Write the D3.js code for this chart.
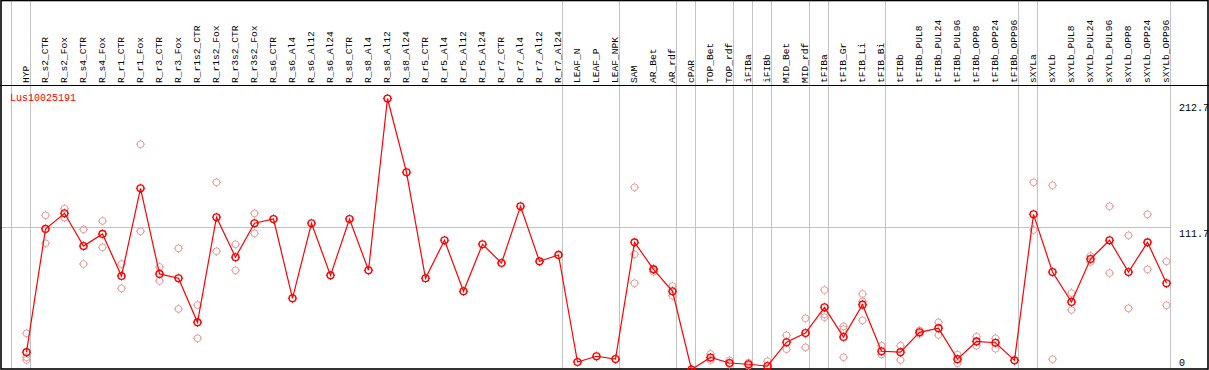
<!DOCTYPE html>
<head>
    <meta charset="utf-8">
    <!-- Load d3.js -->
    <script src="https://d3js.org/d3.v7.min.js"></script>
    <style>
        body {
            margin: 0;
            background: #fff;
        }
        text {
            font-family: 'Liberation Mono', 'DejaVu Sans Mono', monospace;
        }
    </style>
</head>

<body>
    <div id="my_dataviz"></div>
</body>
<script>

    // column names (one per sample)
    var samples = ["HYP", "R_s2_CTR", "R_s2_Fox", "R_s4_CTR", "R_s4_Fox", "R_r1_CTR", "R_r1_Fox", "R_r3_CTR", "R_r3_Fox",
        "R_r1s2_CTR", "R_r1s2_Fox", "R_r3s2_CTR", "R_r3s2_Fox", "R_s6_CTR", "R_s6_Al4", "R_s6_Al12", "R_s6_Al24",
        "R_s8_CTR", "R_s8_Al4", "R_s8_Al12", "R_s8_Al24", "R_r5_CTR", "R_r5_Al4", "R_r5_Al12", "R_r5_Al24",
        "R_r7_CTR", "R_r7_Al4", "R_r7_Al12", "R_r7_Al24", "LEAF_N", "LEAF_P", "LEAF_NPK", "SAM", "AR_Bet", "AR_rdf",
        "cPAR", "TOP_Bet", "TOP_rdf", "iFIBa", "iFIBb", "MID_Bet", "MID_rdf", "tFIBa", "tFIB_Gr", "tFIB_Li", "tFIB_Bi",
        "tFIBb", "tFIBb_PUL8", "tFIBb_PUL24", "tFIBb_PUL96", "tFIBb_OPP8", "tFIBb_OPP24", "tFIBb_OPP96",
        "sXYLa", "sXYLb", "sXYLb_PUL8", "sXYLb_PUL24", "sXYLb_PUL96", "sXYLb_OPP8", "sXYLb_OPP24", "sXYLb_OPP96"];

    // mean expression per sample
    var means = [13.6, 110.3, 122.6, 96.9, 106.4, 73.4, 142.2, 75.0, 71.6,
        37.0, 119.5, 88.1, 114.8, 118.1, 55.9, 114.8, 73.9,
        118.1, 77.9, 212.7, 154.8, 71.6, 101.4, 61.4, 98.3,
        83.6, 128.1, 84.9, 89.9, 5.9, 10.4, 8.2, 99.8, 78.6, 61.4,
        0, 9.4, 5.1, 4.1, 2.7, 21.4, 28.6, 48.8, 25.5, 50.9, 14.3,
        13.6, 29.2, 32.4, 8.1, 22.0, 21.0, 7.2,
        121.8, 76.5, 53.0, 86.7, 101.4, 76.5, 99.8, 67.7];

    // replicate values per sample
    var replicates = [[28.4, 9.6, 7.5], [121.0, 99.1], [126.2, 119.2], [110.0, 82.8], [116.6, 95.9], [82.8, 63.7],
        [176.8, 108.5], [80.5, 69.5], [95.1, 47.5], [50.6, 24.5], [146.9, 92.8], [98.3, 77.9], [122.6, 106.9],
        [], [], [], [], [], [], [], [], [], [], [], [], [], [], [], [], [], [], [],
        [143.0, 90.4, 67.7], [79.1, 76.8], [65.5, 57.9], [], [12.2, 7.5], [7.2, 4.1], [5.3, 3.1], [6.5],
        [26.9, 15.9], [40.2, 17.4], [62.4, 43.3, 41.0], [33.9, 31.6, 9.6], [59.3, 53.5, 38.6], [18.7, 11.8],
        [18.7, 7.5], [30.6, 27.9], [37.0, 27.1], [11.6, 4.9], [25.7, 18.7], [24.5, 16.3], [],
        [146.9, 109.5], [144.6, 8.1], [60.0, 46.7], [89.1, 84.4], [128.1, 75.7], [105.3, 48.0], [121.8, 78.6], [84.9, 50.4]];

    // last sample of each group (a grey separator follows it)
    var groupEnds = ["HYP", "R_r7_Al24", "LEAF_NPK", "AR_rdf", "cPAR", "TOP_rdf", "iFIBa", "iFIBb",
        "MID_rdf", "tFIBa", "tFIB_Bi", "tFIBb_OPP96", "sXYLa", "sXYLb_OPP96"];

    var geneName = "Lus10025191";
    var yTicks = [212.7, 111.7, 0];

    var width = 1209,
        height = 370;

    var svg = d3.select("#my_dataviz")
        .append("svg")
        .attr("width", width)
        .attr("height", height);

    // scales
    var x = d3.scalePoint()
        .domain(samples)
        .range([26.5, 1166.5]);
    var step = x.step();

    var y = d3.scaleLinear()
        .domain([0, d3.max(yTicks)])
        .range([369.5, 98.5]);

    var grey = "#c3c3c3";

    // horizontal grid at middle value
    svg.append("line")
        .attr("x1", 0).attr("x2", x(samples[samples.length - 1]) + 4)
        .attr("y1", Math.round(y(yTicks[1])) + 0.5).attr("y2", Math.round(y(yTicks[1])) + 0.5)
        .style("stroke", grey);

    // vertical separators between groups
    var sepX = [x(samples[0]) - step + 4].concat(groupEnds.map(function (d) { return x(d) + 4; }));
    svg.selectAll(".sep")
        .data(sepX)
        .enter()
        .append("line")
        .attr("x1", function (d) { return d; })
        .attr("x2", function (d) { return d; })
        .attr("y1", 0)
        .attr("y2", 369)
        .style("stroke", grey);

    // frame + header line
    svg.append("rect")
        .attr("x", 1).attr("y", 0.5)
        .attr("width", width - 2).attr("height", 368.5)
        .style("fill", "none")
        .style("stroke", "black")
        .style("stroke-width", 1.6);
    svg.append("line")
        .attr("x1", 0).attr("x2", width)
        .attr("y1", 85.5).attr("y2", 85.5)
        .style("stroke", "black");

    // rotated column labels
    svg.selectAll(".lab")
        .data(samples)
        .enter()
        .append("text")
        .attr("transform", function (d) { return "translate(" + (x(d) + 2.5) + ",83) rotate(-90)"; })
        .style("font-size", "9.6px")
        .style("fill", "black")
        .text(function (d) { return d; });

    // value labels on the right
    var tickOffset = [12, 9.5, -4];
    svg.selectAll(".ytick")
        .data(yTicks)
        .enter()
        .append("text")
        .attr("x", 1179)
        .attr("y", function (d, i) { return y(d) + tickOffset[i]; })
        .style("font-size", "10px")
        .style("fill", "black")
        .text(function (d) { return d; });

    // gene name
    svg.append("text")
        .attr("x", 10)
        .attr("y", 100.5)
        .style("font-size", "10px")
        .style("fill", "red")
        .text(geneName);

    // marker: circle with small ticks
    function marker(g, cx, cy, color, sw) {
        var r = 3.4;
        g.append("circle")
            .attr("cx", cx).attr("cy", cy).attr("r", r)
            .style("fill", "none")
            .style("stroke", color)
            .style("stroke-width", sw);
        [[0, -1], [0, 1], [-1, 0], [1, 0]].forEach(function (v) {
            g.append("line")
                .attr("x1", cx + v[0] * r).attr("y1", cy + v[1] * r)
                .attr("x2", cx + v[0] * (r + 1.2)).attr("y2", cy + v[1] * (r + 1.2))
                .style("stroke", color)
                .style("stroke-width", 1);
        });
    }

    // replicate points
    var gRep = svg.append("g");
    samples.forEach(function (s, i) {
        replicates[i].forEach(function (v) {
            marker(gRep, x(s), y(v), "#eb9a9a", 1);
        });
    });

    // mean line
    svg.append("path")
        .datum(means)
        .attr("d", d3.line()
            .x(function (d, i) { return x(samples[i]); })
            .y(function (d) { return y(d); }))
        .style("fill", "none")
        .style("stroke", "red")
        .style("stroke-width", 1.2);

    // mean points
    var gMean = svg.append("g");
    samples.forEach(function (s, i) {
        marker(gMean, x(s), y(means[i]), "red", 1.4);
    });

</script>
